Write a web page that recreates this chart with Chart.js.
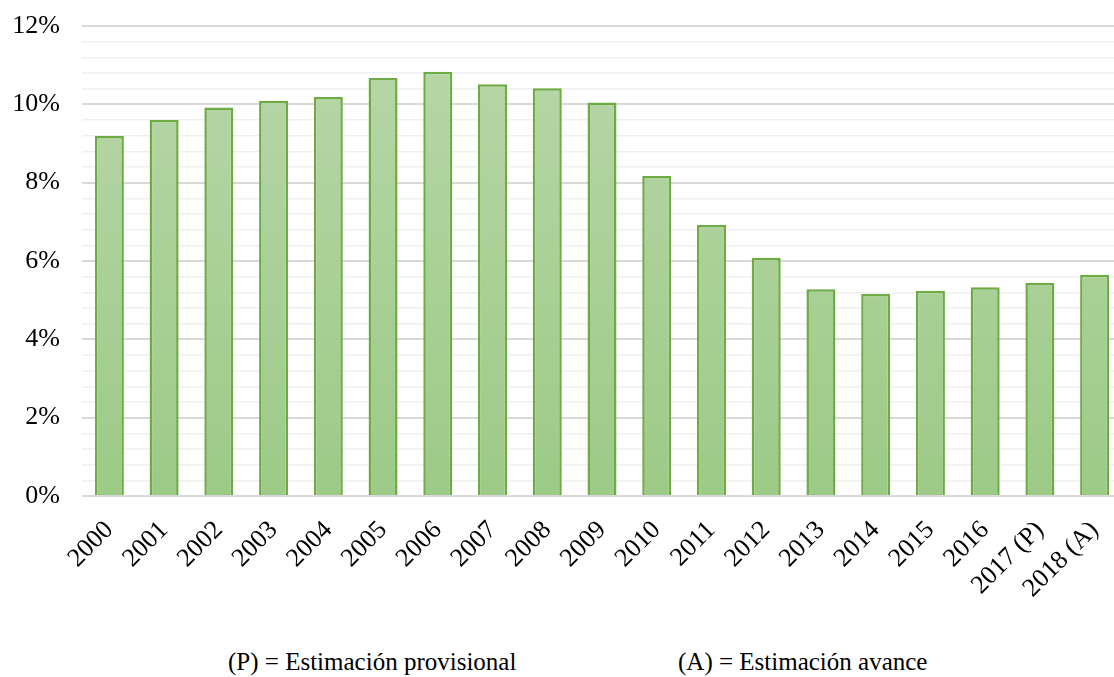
<!DOCTYPE html>
<html>
<head>
<meta charset="utf-8">
<script src="https://cdn.jsdelivr.net/npm/chart.js@4.4.1/dist/chart.umd.min.js"></script>
<style>
  html, body { margin: 0; padding: 0; background: #fff; overflow: hidden; }
  #wrap { position: relative; width: 1125px; height: 640px; }
  #note { position: absolute; top: 648px; left: 0; width: 1114px; height: 30px;
          font-family: "Liberation Serif", "Times New Roman", serif; font-size: 25px; color: #000; }
  #note span { position: absolute; top: 0; white-space: nowrap; }
</style>
</head>
<body>
<div id="wrap"><canvas id="c" width="1125" height="640"></canvas></div>
<div id="note"><span style="left:228px">(P) = Estimación provisional</span><span style="left:678px">(A) = Estimación avance</span></div>
<script>
// Years on the category axis
const years = ['2000','2001','2002','2003','2004','2005','2006','2007','2008','2009',
               '2010','2011','2012','2013','2014','2015','2016','2017 (P)','2018 (A)'];
// Share per year, in percent
const shares = [9.19, 9.60, 9.92, 10.09, 10.19, 10.67, 10.83, 10.51, 10.41, 10.05,
                8.17, 6.92, 6.08, 5.28, 5.16, 5.24, 5.33, 5.44, 5.65];
// Labelled ticks on the value axis
const majorTicks = [0, 2, 4, 6, 8, 10, 12];

const serif = '"Liberation Serif", "Times New Roman", serif';

function barFill(ctx) {
  const area = ctx.chart.chartArea;
  if (!area) return '#acd199';
  const g = ctx.chart.ctx.createLinearGradient(0, area.top, 0, area.bottom);
  g.addColorStop(0, '#b8d7a9');
  g.addColorStop(1, '#9dca87');
  return g;
}

const isMajor = v => majorTicks.some(m => Math.abs(m - v) < 1e-6);

new Chart(document.getElementById('c'), {
  type: 'bar',
  data: {
    labels: years,
    datasets: [{
      data: shares,
      backgroundColor: barFill,
      borderColor: '#6eab45',
      borderWidth: 2.5,
      categoryPercentage: 1,
      barPercentage: 0.53
    }]
  },
  options: {
    responsive: false,
    animation: false,
    devicePixelRatio: 1,
    layout: { padding: { top: 26, right: 3, left: 0, bottom: 0 } },
    plugins: { legend: { display: false }, tooltip: { enabled: false } },
    scales: {
      x: {
        grid: { display: false, drawTicks: false },
        border: { display: false },
        ticks: {
          minRotation: 45, maxRotation: 45, autoSkip: false,
          padding: 19, color: '#000',
          font: { family: serif, size: 26 }
        },
        afterFit: s => { s.height = 144; s.paddingLeft = 0; s.paddingRight = 0; }
      },
      y: {
        min: 0, max: 12,
        grid: {
          drawTicks: false,
          color: c => isMajor(c.tick.value) ? '#d9d9d9' : '#f0f0f0',
          lineWidth: c => isMajor(c.tick.value) ? 2 : 1.5
        },
        border: { display: false },
        ticks: {
          stepSize: 0.4,
          autoSkip: false,
          padding: 22,
          color: '#000',
          font: { family: serif, size: 26 },
          callback: v => isMajor(v) ? Math.round(v) + '%' : ''
        },
        afterFit: s => { s.width = 82; s.paddingTop = 0; s.paddingBottom = 0; }
      }
    }
  }
});
</script>
</body>
</html>
